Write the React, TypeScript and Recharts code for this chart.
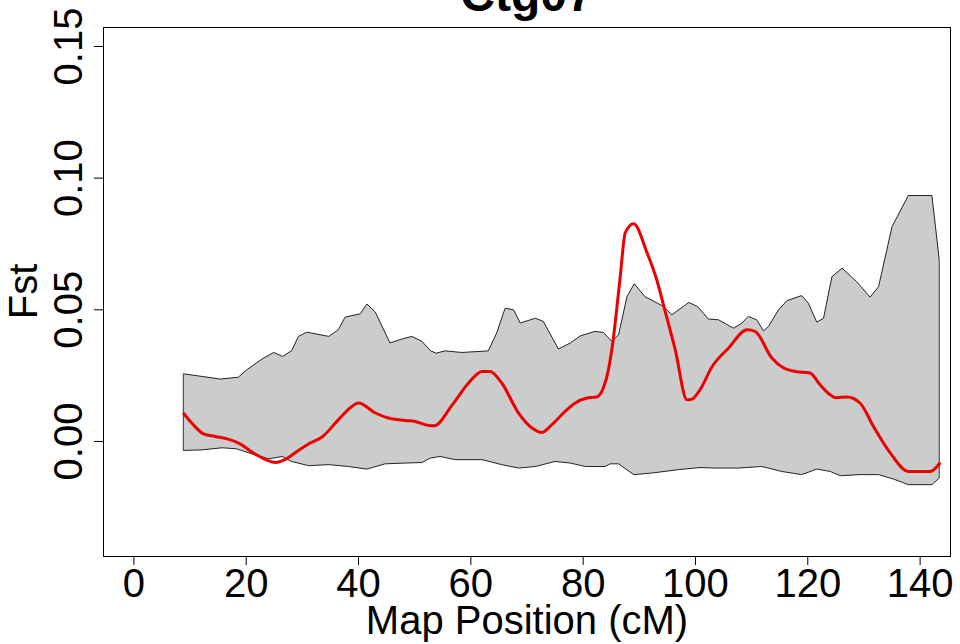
import { Area, ComposedChart, Line, ReferenceLine, XAxis, YAxis } from "recharts";

// upper / lower edge of the grey permutation envelope (cM, Fst)
const upperPos = [
  8.8, 12.1, 15.4, 18.6, 20.1, 22.8, 24.9, 26.5, 28.1, 29.3, 30.8, 34.7, 36.4, 37.6, 40.3, 41.5, 43.0, 45.6, 47.7,
  49.5, 51.3, 52.8, 53.8, 55.4, 58.4, 63.1, 64.6, 66.1, 67.6, 68.8, 71.5, 72.9, 75.6, 77.7, 79.5, 82.1, 83.6, 85.1,
  86.3, 87.8, 89.1, 91.0, 94.3, 95.8, 98.8, 100.4, 102.3, 104.1, 106.8, 108.3, 109.4, 110.9, 112.1, 113.0, 114.8,
  116.3, 118.9, 120.1, 121.6, 122.8, 124.3, 126.1, 128.7, 131.1, 132.6, 135.0, 137.9, 142.1, 143.0, 143.4,
];
const upperFst = [
  0.0257, 0.0247, 0.0237, 0.0244, 0.0272, 0.0313, 0.0338, 0.0323, 0.0345, 0.0399, 0.0415, 0.0399, 0.0424, 0.0472,
  0.0485, 0.0522, 0.0491, 0.0374, 0.0389, 0.0399, 0.038, 0.0345, 0.0335, 0.0344, 0.0338, 0.0344, 0.0412, 0.0506,
  0.05, 0.045, 0.0468, 0.0456, 0.0351, 0.0374, 0.0401, 0.0418, 0.0414, 0.038, 0.0405, 0.055, 0.0599, 0.055, 0.0513,
  0.0481, 0.0528, 0.0512, 0.0465, 0.0462, 0.043, 0.045, 0.0475, 0.0462, 0.042, 0.0437, 0.05, 0.0535, 0.0554, 0.0525,
  0.0453, 0.0468, 0.0626, 0.0658, 0.0607, 0.0548, 0.0588, 0.0816, 0.0934, 0.0934, 0.0766, 0.069,
];
const lowerPos = [
  8.8, 12.1, 15.7, 18.3, 21.0, 24.0, 26.4, 28.1, 31.1, 34.7, 38.2, 41.5, 44.7, 48.3, 51.3, 52.8, 54.5, 57.2, 62.0,
  65.5, 68.5, 71.5, 75.0, 77.7, 80.4, 83.9, 84.8, 86.3, 89.0, 92.2, 97.0, 100.8, 103.5, 107.7, 111.8, 115.4, 118.9,
  121.6, 124.0, 125.8, 129.3, 132.6, 135.3, 137.9, 142.1, 143.4,
];
const lowerFst = [
  -0.0034, -0.0032, -0.0024, -0.0028, -0.0047, -0.0066, -0.0057, -0.0076, -0.0092, -0.0088, -0.0095, -0.0105,
  -0.0085, -0.0082, -0.008, -0.0063, -0.0057, -0.0069, -0.0069, -0.0088, -0.0101, -0.0095, -0.0076, -0.0082,
  -0.0095, -0.0095, -0.0085, -0.0085, -0.0126, -0.012, -0.0107, -0.0099, -0.0101, -0.0101, -0.0095, -0.0114,
  -0.0126, -0.0105, -0.0114, -0.013, -0.0126, -0.0126, -0.0143, -0.0164, -0.0164, -0.0139,
];
// observed smoothed Fst (red)
const fstPos = [
  8.8, 10.3, 12.4, 14.5, 16.8, 18.9, 21.6, 25.2, 26.9, 29.3, 31.4, 33.5, 36.4, 38.5, 40.0, 43.0, 45.3, 48.3, 50.1,
  52.5, 53.5, 56.6, 59.6, 62.0, 63.4, 65.5, 68.5, 70.9, 72.6, 74.4, 76.8, 78.6, 80.7, 82.4, 83.6, 84.5, 85.1, 85.7,
  86.6, 87.5, 89.0, 91.3, 93.1, 94.6, 96.4, 98.5, 99.4, 100.8, 102.9, 105.9, 109.2, 110.6, 113.6, 115.7, 117.8,
  120.4, 122.2, 124.0, 125.0, 127.0, 129.3, 131.7, 134.7, 137.9, 141.8, 143.6,
];
const fstVal = [
  0.0108, 0.007, 0.0029, 0.0019, 0.0009, -0.0009, -0.0048, -0.008, -0.0069, -0.0034, -0.0006, 0.0017, 0.0082,
  0.0127, 0.0146, 0.0108, 0.0089, 0.008, 0.0076, 0.0061, 0.006, 0.0136, 0.0222, 0.0266, 0.0266, 0.0222, 0.0108,
  0.0051, 0.0034, 0.0063, 0.0114, 0.0146, 0.0165, 0.0169, 0.0203, 0.0272, 0.0348, 0.0449, 0.0626, 0.0793, 0.0827,
  0.0721, 0.0614, 0.0494, 0.0348, 0.0158, 0.0161, 0.0196, 0.0282, 0.0355, 0.0424, 0.0418, 0.0317, 0.0279, 0.0266,
  0.026, 0.0215, 0.0177, 0.0166, 0.0169, 0.0146, 0.0057, -0.0044, -0.0114, -0.0114, -0.008,
];

const xTicks = [0, 20, 40, 60, 80, 100, 120, 140];
const yTicks = [0, 0.05, 0.1, 0.15];

const X_DOMAIN: [number, number] = [-5.5, 145.5];
const Y_DOMAIN: [number, number] = [-0.0435, 0.1574];
const W = 960;
const H = 644;
const LEFT = 103;
const TOP = 27;
const RIGHT = 9;
const BOTTOM = 88;
const FONT = "'Liberation Sans', Arial, Helvetica, sans-serif";

function buildRows() {
  const byPos = new Map<number, Record<string, number>>();
  const put = (xs: number[], ys: number[], key: string) =>
    xs.forEach((x, i) => {
      const row = byPos.get(x) ?? { pos: x };
      row[key] = ys[i];
      byPos.set(x, row);
    });
  put(upperPos, upperFst, "hi");
  put(lowerPos, lowerFst, "lo");
  put(fstPos, fstVal, "fst");
  return [...byPos.values()].sort((a, b) => a.pos - b.pos);
}

const rows = buildRows();
const firstX = upperPos[0];
const lastX = upperPos[upperPos.length - 1];

function XTick(props: any) {
  const { x, y, payload } = props;
  return (
    <g>
      <line x1={x} x2={x} y1={y} y2={y + 9} stroke="#000" />
      <text x={x} y={y + 41} textAnchor="middle" fontSize={40} fontFamily={FONT} fill="#000">
        {payload.value}
      </text>
    </g>
  );
}

function YTick(props: any) {
  const { x, y, payload } = props;
  return (
    <g>
      <line x1={x - 9} x2={x} y1={y} y2={y} stroke="#000" />
      <text
        transform={`translate(${x - 21},${y}) rotate(-90)`}
        textAnchor="middle"
        fontSize={40}
        fontFamily={FONT}
        fill="#000"
      >
        {Number(payload.value).toFixed(2)}
      </text>
    </g>
  );
}

export default function App() {
  const plotW = W - LEFT - RIGHT;
  const plotH = H - TOP - BOTTOM;
  return (
    <div style={{ position: "absolute", left: 0, top: 0, width: W, height: H, background: "#fff" }}>
      <ComposedChart width={W} height={H} data={rows} margin={{ top: TOP, right: RIGHT, bottom: 0, left: 0 }}>
        <XAxis
          dataKey="pos"
          type="number"
          domain={X_DOMAIN}
          ticks={xTicks}
          allowDataOverflow
          height={BOTTOM}
          axisLine={false}
          tickLine={false}
          tickSize={0}
          tickMargin={0}
          tick={<XTick />}
          interval={0}
        />
        <YAxis
          type="number"
          domain={Y_DOMAIN}
          ticks={yTicks}
          allowDataOverflow
          width={LEFT}
          axisLine={false}
          tickLine={false}
          tickSize={0}
          tickMargin={0}
          tick={<YTick />}
          interval={0}
        />
        <Area
          dataKey="hi"
          type="linear"
          baseValue={Y_DOMAIN[0]}
          fill="#cbcdcd"
          fillOpacity={1}
          stroke="#222"
          strokeWidth={1}
          connectNulls
          dot={false}
          activeDot={false}
          isAnimationActive={false}
        />
        <Area
          dataKey="lo"
          type="linear"
          baseValue={Y_DOMAIN[0]}
          fill="#fff"
          fillOpacity={1}
          stroke="#222"
          strokeWidth={1}
          connectNulls
          dot={false}
          activeDot={false}
          isAnimationActive={false}
        />
        {/* mask the anti-aliased sliver below the envelope ends */}
        <ReferenceLine
          segment={[
            { x: firstX, y: Y_DOMAIN[0] },
            { x: firstX, y: lowerFst[0] - 0.0004 },
          ]}
          stroke="#fff"
          strokeWidth={2}
        />
        <ReferenceLine
          segment={[
            { x: lastX, y: Y_DOMAIN[0] },
            { x: lastX, y: lowerFst[lowerFst.length - 1] - 0.0004 },
          ]}
          stroke="#fff"
          strokeWidth={2}
        />
        <ReferenceLine
          segment={[
            { x: firstX, y: lowerFst[0] },
            { x: firstX, y: upperFst[0] },
          ]}
          stroke="#333"
          strokeWidth={1}
        />
        <ReferenceLine
          segment={[
            { x: lastX, y: lowerFst[lowerFst.length - 1] },
            { x: lastX, y: upperFst[upperFst.length - 1] },
          ]}
          stroke="#333"
          strokeWidth={1}
        />
        <Line
          dataKey="fst"
          type="monotone"
          stroke="#ee0000"
          strokeWidth={3}
          connectNulls
          dot={false}
          activeDot={false}
          isAnimationActive={false}
        />
      </ComposedChart>
      <svg
        width={W}
        height={H}
        style={{ position: "absolute", left: 0, top: 0, pointerEvents: "none" }}
      >
        <rect x={LEFT + 0.5} y={TOP + 0.5} width={plotW - 1} height={plotH} fill="none" stroke="#000" />
        <text x={LEFT + plotW / 2} y={11} textAnchor="middle" fontSize={48} fontWeight="bold" fontFamily={FONT}>
          Ctg07
        </text>
        <text
          transform={`translate(37,${TOP + plotH / 2}) rotate(-90)`}
          textAnchor="middle"
          fontSize={40}
          fontFamily={FONT}
        >
          Fst
        </text>
        <text x={LEFT + plotW / 2} y={634} textAnchor="middle" fontSize={40} fontFamily={FONT}>
          Map Position (cM)
        </text>
      </svg>
    </div>
  );
}
